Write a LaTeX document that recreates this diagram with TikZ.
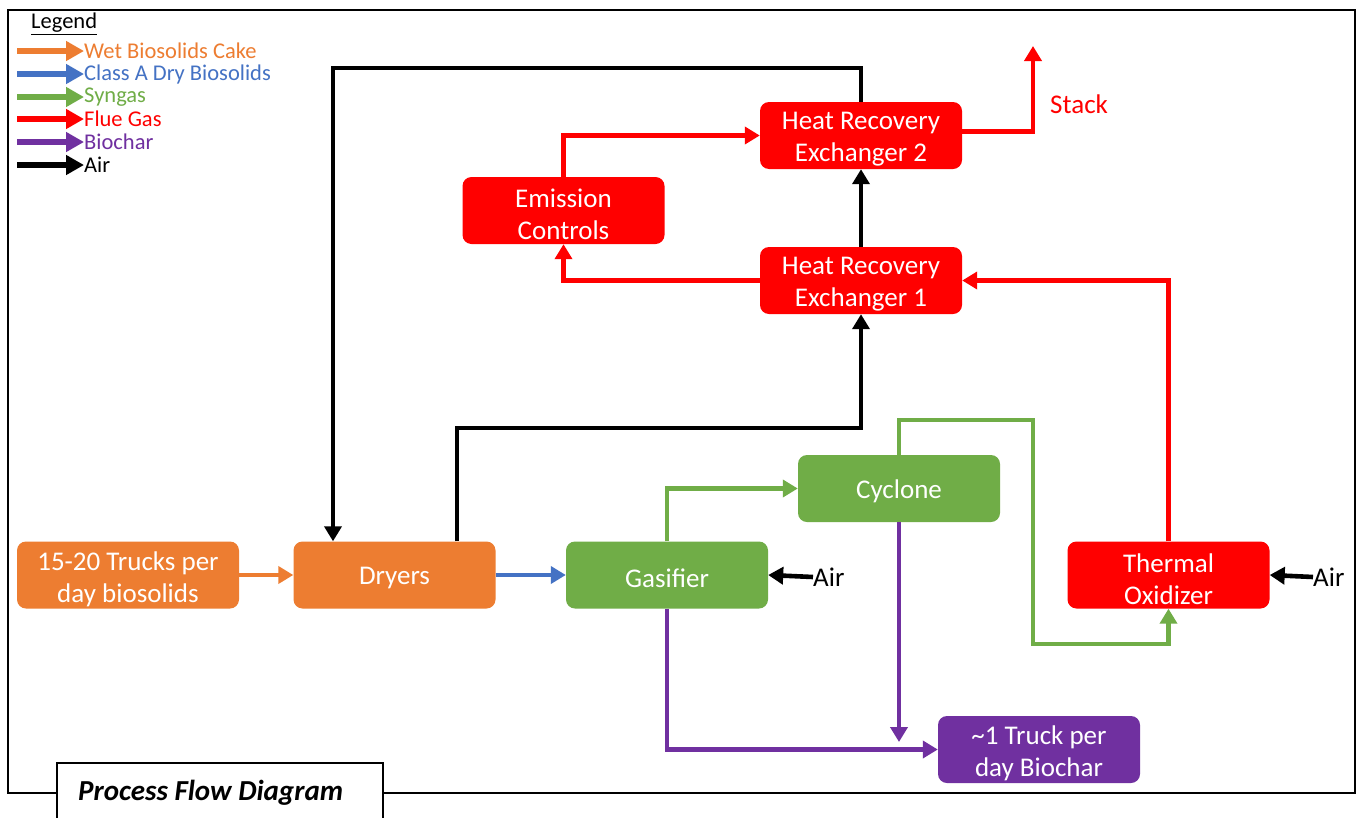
\documentclass[tikz,border=0pt]{standalone}
\usepackage{fontspec}
\setmainfont{Carlito}
\usetikzlibrary{arrows.meta,calc}
\definecolor{cOr}{HTML}{ED7D31}
\definecolor{cBl}{HTML}{4472C4}
\definecolor{cGr}{HTML}{70AD47}
\definecolor{cRd}{HTML}{FF0000}
\definecolor{cPu}{HTML}{7030A0}
\tikzset{
  box/.style={rounded corners=9pt, minimum width=202pt, minimum height=67pt, inner sep=0pt},
  boxtxt/.style={text=white, align=center, font=\fontsize{27}{32}\selectfont, inner sep=0pt},
  flow/.style={line width=4.6pt, -{Triangle[length=15pt,width=17pt]}},
  leg/.style={line width=6.5pt, -{Triangle[length=18pt,width=19pt]}},
  legtxt/.style={anchor=west, font=\fontsize{22.5}{24}\selectfont, inner sep=0pt},
  lbl/.style={font=\fontsize{27}{30}\selectfont, inner sep=0pt},
}
\begin{document}
\begin{tikzpicture}[x=1pt,y=-1pt]
\useasboundingbox (0,0) rectangle (1358,817);
\fill[white] (0,0) rectangle (1358,817);
% frame
\draw[line width=1.8pt] (57,793) -- (8,793) -- (8,10) -- (1355,10) -- (1355,793) -- (383,793);
\draw[line width=1.8pt, fill=white] (57,822) -- (57,763) -- (383,763) -- (383,822);
\node[anchor=west, font=\fontsize{29}{32}\selectfont\bfseries\itshape, inner sep=0pt] (title) at (78,793) {Process Flow Diagram};
% legend
\node[anchor=west, font=\fontsize{22.5}{24}\selectfont, inner sep=0pt] (legend) at (31,24) {\underline{Legend}};
\foreach \y/\c/\t [count=\i] in {51/cOr/Wet Biosolids Cake, 74/cBl/Class A Dry Biosolids, 97/cGr/Syngas, 119/cRd/Flue Gas, 142/cPu/Biochar, 165/black/Air}{
  \coordinate (ls\i) at (17,\y);
  \node[legtxt, text=\c] (lt\i) at (84,\y) {\t};
  \draw[leg, draw=\c, fill=\c] (ls\i) -- (lt\i.west);
}
% boxes
\node[box, fill=cOr, minimum width=222pt] (trk) at (128,575) {};
\node[box, fill=cOr] (dry) at (394.5,575) {};
\node[box, fill=cGr] (gas) at (667,575) {};
\node[box, fill=cGr] (cyc) at (899,488.5) {};
\node[box, fill=cRd] (tox) at (1168.5,575) {};
\node[box, fill=cPu] (bio) at (1039,749.5) {};
\node[box, fill=cRd] (hre1) at (861,280.5) {};
\node[box, fill=cRd] (hre2) at (861,135.5) {};
\node[box, fill=cRd] (emi) at (563.5,210.5) {};
% box texts
\node[boxtxt] (trkt) at ([yshift=-4pt]trk) {15-20 Trucks per\\day biosolids};
\node[boxtxt] (dryt) at ([yshift=-3pt]dry) {Dryers};
\node[boxtxt] (gast) at ([yshift=-3pt]gas) {Gasifier};
\node[boxtxt] (cyct) at ([yshift=-3pt]cyc) {Cyclone};
\node[boxtxt] (toxt) at ([yshift=-4pt]tox) {Thermal\\Oxidizer};
\node[boxtxt] (biot) at ([yshift=-4pt]bio) {\textasciitilde1 Truck per\\day Biochar};
\node[boxtxt] (hre1t) at ([yshift=-4pt]hre1) {Heat Recovery\\Exchanger 1};
\node[boxtxt] (hre2t) at ([yshift=-4pt]hre2) {Heat Recovery\\Exchanger 2};
\node[boxtxt] (emit) at ([yshift=-4pt]emi) {Emission\\Controls};
\node[lbl, anchor=west] (air1) at (813,577) {Air};
\node[lbl, anchor=west] (air2) at (1313,577) {Air};
\node[lbl, anchor=west, text=cRd] (stk) at (1050,104) {Stack};
% coordinates
\coordinate (stack) at (1033,46);
\coordinate (g1) at (1033,420);
\coordinate (g2) at (1033,644);
\coordinate (pend) at (899,742);
\coordinate (a1) at (333,68);
\coordinate (a2) at (457,428);
% flows
\draw[flow, cOr] (trk) -- (dry);
\draw[flow, cBl] (dry) -- (gas);
\draw[flow, black] (air1.west) -- (gas.east);
\draw[flow, black] (air2.west) -- (tox.east);
\draw[flow, cGr] (gas.north) |- (cyc.west);
\draw[flow, cGr] (cyc.north) |- (g1) -- (g2) -| (tox.south);
\draw[flow, cPu] (gas.south) |- (bio.west);
\draw[flow, cPu] (cyc.south) -- (pend);
\draw[flow, cRd] (tox.north) |- (hre1.east);
\draw[flow, cRd] (hre1.west) -| (emi.south);
\draw[flow, cRd] (emi.north) |- (hre2.west);
\draw[flow, cRd] ([yshift=4pt]hre2.east) -| (stack);
\draw[flow, black] (hre1.north) -- (hre2.south);
\draw[flow, black] (hre2.north) |- (a1) -- (a1 |- dry.north);
\draw[flow, black] (a2 |- dry.north) -- (a2) -| (hre1.south);
\end{tikzpicture}
\end{document}
